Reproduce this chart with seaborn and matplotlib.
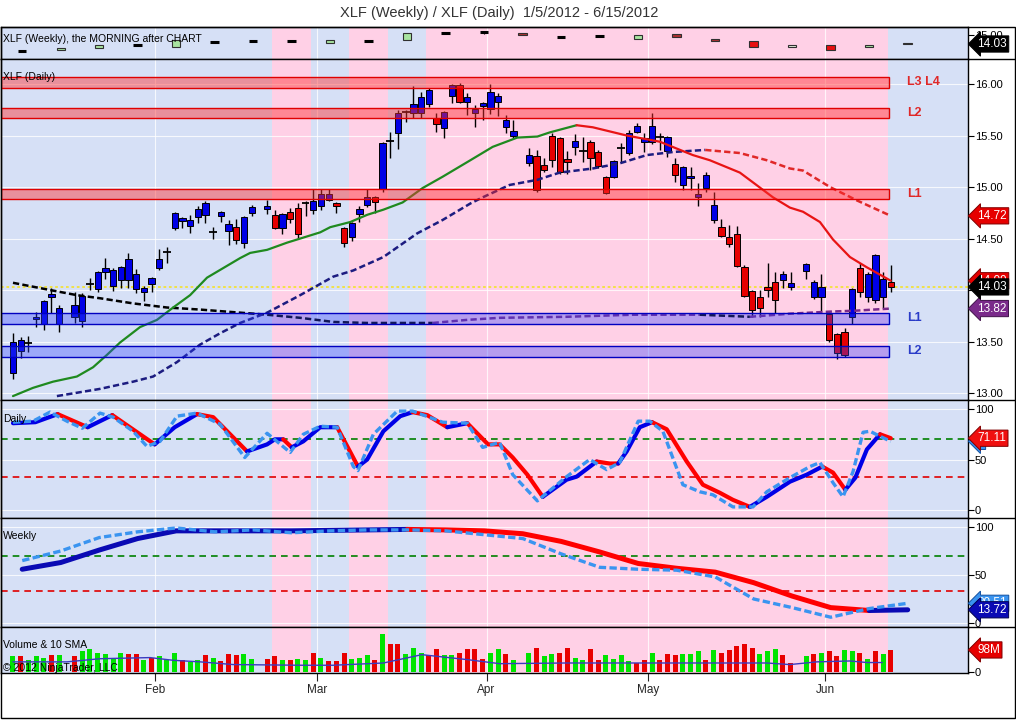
import numpy as np
import pandas as pd
import matplotlib
matplotlib.use("Agg")
import matplotlib.pyplot as plt
import matplotlib.transforms as mtrans
from matplotlib.patches import Rectangle
from matplotlib.lines import Line2D
import seaborn as sns

# ---------------- data ----------------
# daily bars XLF, weekday positions (holidays leave a gap like in NinjaTrader)
days = pd.bdate_range("2012-01-05", "2012-06-13")
holidays = pd.to_datetime(["2012-01-16", "2012-02-20", "2012-04-06", "2012-05-28"])
trade_days = days[~days.isin(holidays)]
bar_x = np.array([days.get_loc(d) for d in trade_days])

opens = [13.19, 13.41, 13.49, 13.72, 13.67, 13.93, 13.67,
         13.74, 13.70, 14.06, 14.01, 14.17, 14.04, 14.10, 14.10, 14.01, 13.98, 14.06,
         14.21, 14.37, 14.60, 14.67, 14.62, 14.71, 14.73, 14.56, 14.72, 14.57, 14.61, 14.46, 14.75,
         14.79, 14.73, 14.60, 14.76, 14.80, 14.84, 14.78, 14.82, 14.87, 14.84, 14.60, 14.51, 14.74,
         14.83, 14.90, 14.98, 15.45, 15.52, 15.73, 15.72, 15.72, 15.81, 15.67, 15.57, 15.88, 15.99,
         15.83, 15.72, 15.79, 15.76, 15.83, 15.58, 15.50,
         15.23, 15.30, 15.21, 15.50, 15.48, 15.27, 15.39, 15.35, 15.44, 15.34, 15.10, 15.10, 15.38,
         15.33, 15.53, 15.44, 15.44, 15.49, 15.35, 15.22, 15.02, 15.09, 14.90, 14.99, 14.68, 14.61,
         14.51, 14.54, 14.22, 13.99, 13.93, 14.03, 14.08, 14.10, 14.03,
         14.18, 13.93, 13.93, 13.77, 13.57, 13.59, 13.74, 14.21, 13.93, 13.90, 13.93, 14.08]
highs = [13.58, 13.54, 13.55, 13.79, 13.90, 14.02, 13.85,
         13.98, 13.97, 14.12, 14.18, 14.31, 14.21, 14.23, 14.36, 14.20, 14.04, 14.13,
         14.40, 14.42, 14.76, 14.71, 14.73, 14.82, 14.86, 14.61, 14.77, 14.68, 14.69, 14.72, 14.83,
         14.87, 14.78, 14.75, 14.80, 14.84, 14.86, 14.98, 14.98, 14.98, 14.85, 14.61, 14.66, 14.82,
         14.98, 14.91, 15.44, 15.53, 15.75, 15.75, 15.98, 15.92, 15.96, 15.72, 15.74, 16.00, 16.01,
         15.91, 15.80, 15.83, 16.00, 15.91, 15.70, 15.65,
         15.38, 15.36, 15.28, 15.52, 15.49, 15.35, 15.51, 15.49, 15.46, 15.36, 15.11, 15.26, 15.43,
         15.55, 15.62, 15.52, 15.72, 15.52, 15.50, 15.28, 15.20, 15.19, 15.04, 15.15, 14.95, 14.69,
         14.63, 14.62, 14.24, 14.00, 14.00, 14.26, 14.17, 14.18, 14.17,
         14.26, 14.10, 14.16, 13.79, 13.58, 13.63, 14.02, 14.26, 14.17, 14.35, 14.17, 14.24]
lows = [13.14, 13.34, 13.40, 13.64, 13.61, 13.78, 13.59,
        13.68, 13.64, 14.00, 13.98, 14.11, 13.99, 14.02, 14.02, 13.97, 13.89, 13.98,
        14.19, 14.26, 14.58, 14.60, 14.55, 14.65, 14.65, 14.50, 14.66, 14.44, 14.45, 14.41, 14.72,
        14.74, 14.59, 14.54, 14.65, 14.50, 14.72, 14.74, 14.78, 14.86, 14.75, 14.42, 14.48, 14.66,
        14.81, 14.75, 14.95, 15.28, 15.37, 15.63, 15.67, 15.67, 15.78, 15.53, 15.48, 15.82, 15.82,
        15.70, 15.58, 15.65, 15.71, 15.69, 15.52, 15.48,
        15.20, 14.95, 15.15, 15.19, 15.13, 15.13, 15.31, 15.24, 15.17, 15.18, 14.93, 15.09, 15.24,
        15.31, 15.52, 15.34, 15.42, 15.36, 15.29, 15.05, 14.97, 14.97, 14.82, 14.95, 14.65, 14.51,
        14.42, 14.22, 13.93, 13.74, 13.74, 13.93, 13.78, 14.02, 14.00,
        14.11, 13.91, 13.79, 13.50, 13.33, 13.35, 13.67, 13.93, 13.88, 13.87, 13.83, 13.98]
closes = [13.50, 13.51, 13.49, 13.74, 13.89, 13.96, 13.83,
          13.85, 13.94, 14.06, 14.17, 14.21, 14.19, 14.22, 14.30, 14.16, 14.02, 14.12,
          14.30, 14.37, 14.75, 14.70, 14.68, 14.79, 14.84, 14.56, 14.76, 14.64, 14.49, 14.71, 14.81,
          14.82, 14.60, 14.74, 14.69, 14.54, 14.84, 14.86, 14.93, 14.93, 14.82, 14.46, 14.65, 14.79,
          14.90, 14.85, 15.43, 15.45, 15.72, 15.73, 15.81, 15.87, 15.94, 15.61, 15.73, 15.99, 15.83,
          15.87, 15.76, 15.82, 15.92, 15.88, 15.65, 15.54,
          15.31, 14.97, 15.17, 15.26, 15.15, 15.24, 15.45, 15.35, 15.28, 15.20, 14.94, 15.25, 15.38,
          15.52, 15.59, 15.48, 15.59, 15.49, 15.49, 15.12, 15.19, 15.11, 14.93, 15.12, 14.83, 14.52,
          14.45, 14.23, 13.94, 13.81, 13.83, 14.00, 13.90, 14.16, 14.07,
          14.25, 14.08, 14.03, 13.51, 13.39, 13.37, 14.01, 13.98, 14.16, 14.34, 14.11, 14.03]

# volume (millions) and its up/down colour
volume = [70, 70, 55, 70, 64, 74, 74,
          70, 92, 100, 86, 79, 64, 83, 79, 79, 55, 64,
          70, 55, 85, 52, 45, 52, 74, 64, 49, 79, 74, 79, 59,
          59, 70, 52, 52, 59, 52, 86, 64, 49, 49, 86, 59, 64, 74, 55, 168, 126, 126, 79, 108, 86,
          74, 104, 74, 74, 83, 100, 100, 59, 86, 100, 82, 55,
          86, 108, 70, 79, 86, 108, 64, 52, 104, 55, 74, 59, 74, 48, 40, 55, 85, 55, 82, 74, 82,
          79, 92, 55, 97, 86, 97, 114, 123, 108, 82, 92, 100, 74, 42,
          70, 82, 86, 92, 70, 97, 92, 86, 59, 92, 79, 97]
vol_dir = list("grgggrg" "rggggggrrgr" "gggrggrgrrrgg"
               "rrgrggrgrrrgggrgrrgggrrggrrrrggrg"
               "grggrrggrrggggrrgrrrgggrgrrrrrgggrr" "grgrrggrgrgr")
vsma_x = [0, 7.0, 11.3, 17.8, 20.8, 24.3, 28.6, 37.3, 41.6, 48.1, 53.1, 59.0, 63.2,
          71.9, 80.5, 89.2, 97.9, 100.9, 104.4, 108.7, 110.9, 112.9]
vsma_y = [45, 45, 59, 64, 52, 45, 33, 30, 30, 40, 77, 55, 37, 40, 40, 40, 40, 33, 45, 49, 42, 42]

# moving averages on the daily chart
fast_x = [0, 2.6, 5.2, 8.3, 10.4, 12.2, 13.9, 16.5, 18.7, 20.8, 23.0, 25.2, 29.5, 30.8, 33.0,
          35.6, 39.9, 41.2, 43.8, 46.0, 48.1, 50.6, 53.2, 55.8, 59.4, 62.3, 65.5, 68.1, 69.7,
          73.2, 75.3, 79.7, 84.0, 88.3, 90.5, 94.4, 98.7, 100.9, 102.6, 104.8, 106.5, 108.7,
          110.9, 114.0]
fast_y = [12.97, 13.05, 13.11, 13.16, 13.25, 13.37, 13.49, 13.64, 13.71, 13.83, 13.95, 14.12,
          14.31, 14.36, 14.39, 14.46, 14.56, 14.61, 14.66, 14.73, 14.78, 14.85, 14.99, 15.10,
          15.26, 15.39, 15.48, 15.49, 15.53, 15.60, 15.58, 15.50, 15.44, 15.31, 15.26, 15.14,
          14.90, 14.80, 14.76, 14.66, 14.49, 14.32, 14.22, 14.09]
slow_x = [5.7, 11.3, 15.6, 18.2, 21.3, 24.3, 26.9, 29.5, 33.0, 37.3, 41.6, 44.2, 48.1, 52.5,
          55.8, 59.4, 61.0, 64.5, 68.1, 71.0, 75.3, 78.8, 82.3, 85.7, 89.9, 94.4, 97.9, 100.9,
          102.6, 106.1, 109.6, 114.0]
slow_y = [12.97, 13.04, 13.11, 13.16, 13.30, 13.47, 13.58, 13.68, 13.78, 13.95, 14.13, 14.19,
          14.32, 14.55, 14.68, 14.84, 14.90, 15.02, 15.07, 15.14, 15.18, 15.23, 15.31, 15.34,
          15.36, 15.33, 15.26, 15.18, 15.16, 15.00, 14.87, 14.72]
long_x = [0, 4.8, 8.3, 11.3, 15.6, 20.0, 24.3, 29.5, 33.0, 37.3, 41.6, 46.0, 50.3, 54.5, 59.0,
          63.2, 71.9, 80.5, 89.2, 95.7, 100.9, 106.1, 109.6, 114.0]
long_y = [14.07, 14.00, 13.95, 13.92, 13.87, 13.83, 13.81, 13.78, 13.76, 13.73, 13.69, 13.68,
          13.68, 13.68, 13.71, 13.73, 13.74, 13.76, 13.76, 13.74, 13.77, 13.79, 13.80, 13.82]

# support / resistance zones
zone_lo = [15.96, 15.67, 14.88, 13.67, 13.35]
zone_hi = [16.07, 15.77, 14.98, 13.78, 13.46]
zone_side = ["r", "r", "r", "b", "b"]
zone_text = ["L3 L4", "L2", "L1", "L1", "L2"]

# daily stochastics
dk_x = [0.0, 2.9, 5.8, 9.7, 12.9, 18.4, 21.0, 23.9, 26.0, 30.4, 33.0, 34.0, 35.1, 36.2, 37.7,
        39.9, 42.1, 44.8, 46.0, 48.1, 50.3, 51.9, 53.8, 56.4, 59.0, 61.7, 63.2, 64.9, 66.8,
        68.8, 71.9, 73.2, 75.8, 77.5, 78.6, 79.7, 81.4, 83.0, 84.9, 87.5, 89.6, 91.8, 93.5,
        95.7, 97.9, 100.9, 103.1, 105.1, 106.5, 108.1, 109.4, 110.9, 112.6, 114.0]
dk_y = [86, 87, 95, 82, 94, 65, 82, 95, 92, 58, 65, 70, 70, 62, 68, 82, 82, 43, 50, 78,
        93, 97, 94, 82, 86, 65, 65, 52, 35, 13, 30, 33, 48, 46, 46, 58, 82, 87, 80, 48,
        25, 17, 10, 3, 13, 28, 35, 43, 37, 20, 32, 60, 75, 71.11]
dd_x = [0, 2.6, 4.8, 7.0, 9.0, 11.3, 13.0, 15.6, 17.4, 19.1, 21.3, 23.9, 26.9, 30.1, 33.0,
        36.0, 37.7, 39.9, 42.1, 44.2, 44.8, 46.8, 49.9, 51.9, 55.8, 59.0, 61.0, 63.2, 64.9,
        68.1, 71.9, 74.9, 77.1, 78.8, 81.2, 82.7, 84.4, 87.0, 89.2, 90.9, 93.5, 96.1, 97.9,
        100.9, 103.5, 104.8, 106.5, 107.8, 109.1, 110.4, 111.3, 112.6, 114.0]
dd_y = [87, 88, 97, 88, 81, 96, 92, 78, 63, 68, 93, 96, 85, 52, 76, 57, 75, 83, 82, 43,
        39, 75, 98, 98, 87, 86, 62, 67, 35, 9, 33, 50, 40, 47, 88, 88, 78, 25, 18, 15,
        3, 3, 18, 32, 43, 47, 27, 13, 38, 77, 78, 73, 68]

# weekly bars (top strip) and weekly stochastics
week_x = 1.2 + 5 * np.arange(24)
week_trend = ["up"] * 7 + ["dn", "up", "dn", "up"] + ["dn"] * 12 + ["up"]
wk_open = [13.21, 13.37, 13.63, 13.94, 13.71, 14.28, 14.32, 14.40, 14.17, 14.35, 14.51, 15.23,
           15.31, 15.28, 14.81, 14.89, 14.62, 15.15, 14.62, 14.35, 13.67, 13.94, 13.67, 14.12]
wk_close = [13.21, 13.60, 13.89, 13.94, 14.43, 14.28, 14.32, 14.40, 14.46, 14.35, 15.23, 15.23,
            15.31, 15.08, 14.81, 14.89, 15.08, 14.85, 14.40, 13.71, 13.89, 13.40, 13.97, 14.03]
wk_kind = ["k", "g", "g", "k", "g", "k", "k", "k", "g", "k", "g", "k", "k", "dr", "k", "k",
           "g", "dr", "dr", "r", "lt", "r", "g", "dr"]
wk_K = [56, 63, 76, 88, 96, 96, 96, 96, 96.5, 97, 97.5, 97, 96, 93, 85, 74, 62, 57, 53, 42,
        28, 16, 13, 13.72]
wk_D = [65, 75, 89, 95, 99, 95, 97, 94, 96, 97, 97, 96, 92, 88, 72, 58, 56, 55, 48, 25, 16,
        6, 15, 20.51]

months = ["Feb", "Mar", "Apr", "May", "Jun"]
month_pos = [18.5, 39.5, 61.5, 82.5, 105.5]

# ---------------- style ----------------
BLUE_BG = "#d6e0f6"
PINK_BG = "#ffd0e6"
UP_C = "#0000e6"
DN_C = "#e60000"

sns.set_style("white")
plt.rcParams["font.family"] = ["Liberation Sans", "DejaVu Sans"]

W, H = 1016, 720
fig = plt.figure(figsize=(W / 100, H / 100), dpi=100)


def fx(px):
    return px / W


def fy(py):
    return 1 - py / H


def panel(top, bottom):
    return fig.add_axes([fx(1), fy(bottom), fx(968) - fx(1), (bottom - top) / H])


ax_w = panel(27, 59)
ax_m = panel(59, 400)
ax_d = panel(400, 518)
ax_s = panel(518, 627)
ax_v = panel(627, 673)

XL = (-1.558, 124.03)
for ax in [ax_w, ax_m, ax_d, ax_s, ax_v]:
    ax.set_xlim(*XL)
    ax.set_facecolor(BLUE_BG)
    for k, trend in enumerate(week_trend):
        if trend == "dn":
            ax.axvspan(week_x[k] - 2.5, week_x[k] + 2.5, color=PINK_BG, lw=0, zorder=0)
    for m in month_pos:
        ax.axvline(m, color="white", lw=0.8, alpha=0.8, zorder=0.5)
    ax.yaxis.tick_right()
    ax.tick_params(axis="y", direction="out", length=4, width=0.8, pad=1,
                   labelsize=8, colors="black", left=False, right=True)
    ax.set_xticks([])
    for s in ax.spines.values():
        s.set_color("black")
        s.set_linewidth(1)


def slope_line(ax, xs, ys, up, dn, **kw):
    xs, ys = np.asarray(xs, float), np.asarray(ys, float)
    cols, cur = [], up
    for i in range(len(xs) - 1):
        d = ys[i + 1] - ys[i]
        if d > 0:
            cur = up
        elif d < 0:
            cur = dn
        cols.append(cur)
    start = 0
    for i in range(1, len(cols) + 1):
        if i == len(cols) or cols[i] != cols[start]:
            ax.plot(xs[start:i + 1], ys[start:i + 1], color=cols[start],
                    solid_capstyle="round", **kw)
            start = i


def tag(ax, y, txt, fc, ec=None, tc="white"):
    tr = mtrans.blended_transform_factory(ax.transAxes, ax.transData)
    ax.text(1 + 9 / 967, y, txt, transform=tr, ha="left", va="center", fontsize=8.5,
            color=tc, clip_on=False, zorder=20,
            bbox=dict(boxstyle="larrow,pad=0.18", fc=fc, ec=ec or "black", lw=0.7))


# ---------------- weekly strip ----------------
ax_w.set_ylim(12.37, 15.91)
ax_w.set_yticks([15.0])
ax_w.set_yticklabels(["15.00"])
wk_fill = {"g": "#a8e4a0", "dr": "#b03030", "r": "#e81010", "lt": "#e4eedc"}
for x, o, c, kind in zip(week_x, wk_open, wk_close, wk_kind):
    if kind == "k":
        ax_w.vlines(x, o - 0.12, o + 0.12, color="black", lw=0.8, zorder=3)
        ax_w.hlines(o, x - 0.55, x + 0.55, color="black", lw=2.2, zorder=3)
    else:
        ax_w.bar(x, abs(c - o), bottom=min(o, c), width=1.1, color=wk_fill[kind],
                 edgecolor="#303030", lw=0.8, zorder=3)
tag(ax_w, 14.03, "14.03", "black")

# ---------------- daily price panel ----------------
ax_m.set_ylim(12.932, 16.243)
ax_m.set_yticks([13.0, 13.5, 14.0, 14.5, 15.0, 15.5, 16.0])
ax_m.set_yticklabels([f"{v:.2f}" for v in [13.0, 13.5, 14.0, 14.5, 15.0, 15.5, 16.0]])
for v in [13.0, 13.5, 14.0, 14.5, 15.0, 15.5, 16.0]:
    ax_m.axhline(v, color="white", lw=0.8, alpha=0.8, zorder=0.5)
ax_m.axhline(14.03, color="#f2e23a", lw=1.3, ls=(0, (1.5, 1.5)), zorder=1)

o = np.array(opens)
c = np.array(closes)
h = np.array(highs)
l = np.array(lows)
ax_m.vlines(bar_x, l, h, color="black", lw=1, zorder=3)
body = c != o
cols = np.where(c > o, UP_C, DN_C)
ax_m.bar(bar_x[body], np.abs(c - o)[body], bottom=np.minimum(o, c)[body], width=0.82,
         color=cols[body], edgecolor="black", lw=0.7, zorder=3.2)
ax_m.hlines(c[~body], bar_x[~body] - 0.5, bar_x[~body] + 0.5, color="black", lw=1.3, zorder=3.2)

slope_line(ax_m, long_x, long_y, "#7a2a8a", "black", lw=1.8, ls=(0, (2.5, 1.3)), zorder=4)
slope_line(ax_m, slow_x, slow_y, "#1c1c80", "#e02828", lw=1.8, ls=(0, (2.5, 1.3)), zorder=4)
slope_line(ax_m, fast_x, fast_y, "#1f8a1f", "#e81414", lw=1.6, zorder=4)

zone_end = 113.8
for lo, hi, side, txt in zip(zone_lo, zone_hi, zone_side, zone_text):
    fc = "#ff3030" if side == "r" else "#3040ff"
    al = 0.45 if side == "r" else 0.35
    ec = "#e00000" if side == "r" else "#0000c0"
    tc = "#e02828" if side == "r" else "#2a3cc8"
    ax_m.add_patch(Rectangle((XL[0], lo), zone_end - XL[0], hi - lo, fc=fc, alpha=al,
                             lw=0, zorder=5))
    ax_m.add_patch(Rectangle((XL[0], lo), zone_end - XL[0], hi - lo, fill=False, ec=ec,
                             lw=1, zorder=5))
    ax_m.text(116.1, (lo + hi) / 2, txt, color=tc, fontsize=9, fontweight="bold",
              ha="left", va="center", zorder=6)

tag(ax_m, 14.09, "14.09", DN_C, "#800000")
tag(ax_m, 14.72, "14.72", DN_C, "#800000")
tag(ax_m, 13.82, "13.82", "#7a2a8a", "#40104a")
tag(ax_m, 14.03, "14.03", "black")

# ---------------- daily stochastics ----------------
ax_d.set_ylim(-8, 109)
ax_d.set_yticks([0, 50, 100])
ax_d.set_yticklabels(["0", "50", "100"])
for v in [0, 50, 100]:
    ax_d.axhline(v, color="white", lw=0.8, alpha=0.8, zorder=0.5)
ax_d.axhline(70, color="#008000", lw=1.2, ls=(0, (4, 3)), zorder=1)
ax_d.axhline(33, color="#e00000", lw=1.2, ls=(0, (4, 3)), zorder=1)
slope_line(ax_d, dk_x, dk_y, "#0000e6", "#ff0000", lw=3, zorder=3)
sns.lineplot(x=dd_x, y=dd_y, ax=ax_d, color="#3a94f0", lw=2.4, ls=(0, (2.2, 1.0)),
             sort=False, estimator=None, zorder=4)
ax_d.set_xlim(*XL)
tag(ax_d, 68, "  ", "#3a94f0", "#1050a0")
tag(ax_d, 71.11, "71.11", "#f01010", "#800000")

# ---------------- weekly stochastics ----------------
ax_s.set_ylim(-4.2, 109.4)
ax_s.set_yticks([0, 50, 100])
ax_s.set_yticklabels(["0", "50", "100"])
for v in [0, 50, 100]:
    ax_s.axhline(v, color="white", lw=0.8, alpha=0.8, zorder=0.5)
ax_s.axhline(70, color="#008000", lw=1.2, ls=(0, (4, 3)), zorder=1)
ax_s.axhline(33, color="#e00000", lw=1.2, ls=(0, (4, 3)), zorder=1)
slope_line(ax_s, week_x, wk_K, "#0a0ab4", "#ff0000", lw=3.6, zorder=3)
sns.lineplot(x=week_x, y=wk_D, ax=ax_s, color="#3a94f0", lw=2.4, ls=(0, (2.2, 1.0)),
             sort=False, estimator=None, zorder=4)
ax_s.set_xlim(*XL)
tag(ax_s, 20.51, "20.51", "#3a94f0", "#1050a0")
tag(ax_s, 13.72, "13.72", "#0a0ab4", "#000050")

# ---------------- volume ----------------
ax_v.set_ylim(-4.5, 200)
ax_v.set_yticks([0])
ax_v.set_yticklabels(["0"])
vcol = ["#00e400" if d == "g" else "#e80000" for d in vol_dir]
ax_v.bar(bar_x, volume, width=0.65, color=vcol, lw=0, zorder=3)
sns.lineplot(x=vsma_x, y=vsma_y, ax=ax_v, color="#3a3ac0", lw=1, sort=False,
             estimator=None, zorder=4)
ax_v.set_xlim(*XL)
ax_v.set_xticks(month_pos)
ax_v.set_xticklabels(months, fontsize=8.5)
ax_v.tick_params(axis="x", direction="out", length=6, width=0.8, pad=2, bottom=True)
ax_v.set_xlabel("")
ax_v.set_ylabel("")
for ax in [ax_d, ax_s]:
    ax.set_xlabel("")
    ax.set_ylabel("")
tag(ax_v, 98, "98M", DN_C, "#800000")

# ---------------- texts and frame ----------------
fig.text(fx(499), fy(13), "XLF (Weekly) / XLF (Daily)  1/5/2012 - 6/15/2012",
         ha="center", va="center", fontsize=10.5, color="#333333")
for py, txt in [(39, "XLF (Weekly), the MORNING after CHART"), (77, "XLF (Daily)"),
                (419, "Daily"), (536, "Weekly"), (645, "Volume & 10 SMA"),
                (668, "\u00a9 2012 NinjaTrader, LLC")]:
    fig.text(fx(3), fy(py), txt, ha="left", va="center", fontsize=7.5, color="black")

for py in (59, 400, 518, 627):
    fig.add_artist(Line2D([fx(968), fx(1015)], [fy(py)] * 2, color="black", lw=1))
fig.add_artist(Rectangle((fx(1), fy(718)), fx(1015) - fx(1), fy(27) - fy(718), fill=False,
                         ec="black", lw=1, transform=fig.transFigure))

fig.savefig("out.png", dpi=100)
